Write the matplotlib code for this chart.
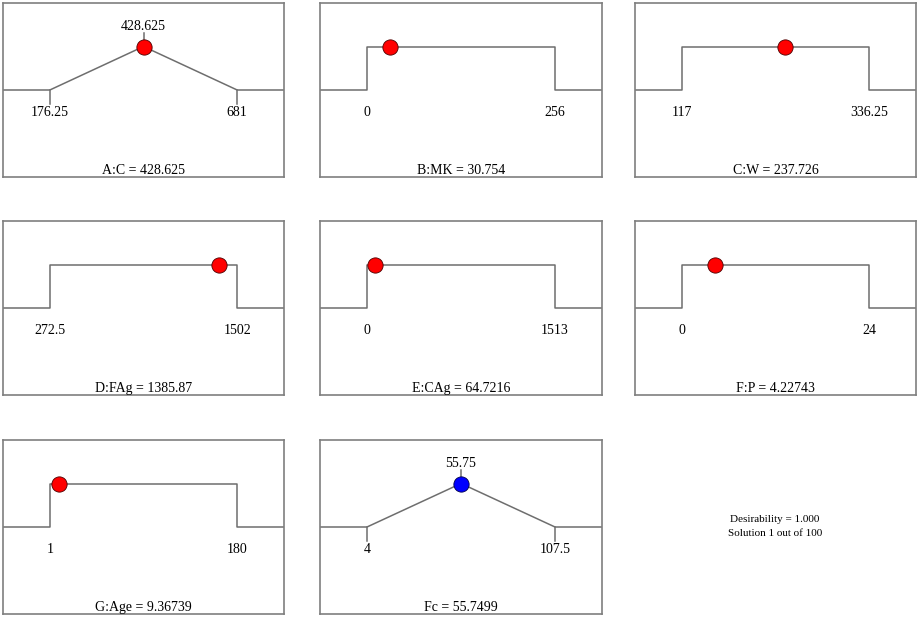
import matplotlib
matplotlib.use("Agg")
import matplotlib.pyplot as plt

plt.rcParams['font.family'] = ['Liberation Serif', 'DejaVu Serif']

# factor / response data (Design-Expert ramp view)
names = ["A:C", "B:MK", "C:W", "D:FAg", "E:CAg", "F:P", "G:Age", "Fc"]
lows = [176.25, 0, 117, 272.5, 0, 0, 1, 4]
highs = [681, 256, 336.25, 1502, 1513, 24, 180, 107.5]
low_labels = ["176.25", "0", "117", "272.5", "0", "0", "1", "4"]
high_labels = ["681", "256", "336.25", "1502", "1513", "24", "180", "107.5"]
goals = ["target", "range", "range", "range", "range", "range", "range", "target"]
targets = [428.625, None, None, None, None, None, None, 55.75]
target_labels = ["428.625", None, None, None, None, None, None, "55.75"]
solution = [428.625, 30.754, 237.726, 1385.87, 64.7216, 4.22743, 9.36739, 55.7499]
solution_labels = ["428.625", "30.754", "237.726", "1385.87", "64.7216",
                   "4.22743", "9.36739", "55.7499"]
desirability = "1.000"
solution_text = "Solution 1 out of 100"

W, H = 920, 617
fig = plt.figure(figsize=(W / 100, H / 100), dpi=100)

col_left = [3, 320, 635]
col_w = [281, 282, 281]
row_top = [3, 221, 440]
row_h = 174

line_c = "#6e6e6e"
box_c = "#7f7f7f"
fs = 10

for i, name in enumerate(names):
    r, c = divmod(i, 3)
    x0 = col_left[c] / W
    y0 = 1 - (row_top[r] + row_h) / H
    ax = fig.add_axes([x0, y0, col_w[c] / W, row_h / H])
    lo, hi = lows[i], highs[i]
    span = hi - lo
    xa, xb = lo - 0.25 * span, hi + 0.25 * span
    ax.set_xlim(xa, xb)
    ax.set_ylim(-2, 2)
    ax.set_xticks([])
    ax.set_yticks([])
    for s in ax.spines.values():
        s.set_color(box_c)
        s.set_linewidth(1.2)

    is_resp = (name == "Fc")
    dot_c = "#0000ff" if is_resp else "#ff0000"
    edge_c = "#00004a" if is_resp else "#4a0000"

    if goals[i] == "target":
        t = targets[i]
        ax.plot([xa, lo, t, hi, xb], [0, 0, 1, 0, 0], color=line_c, lw=1.1)
        # small ticks under the ramp ends and above the target
        ax.plot([lo, lo], [0, -0.32], color=line_c, lw=1.1)
        ax.plot([hi, hi], [0, -0.32], color=line_c, lw=1.1)
        ax.plot([t, t], [1.08, 1.3], color=line_c, lw=1.1)
        ax.text(t, 1.37, target_labels[i], ha="center", va="baseline", fontsize=fs)
    else:
        ax.plot([xa, lo, lo, hi, hi, xb], [0, 0, 1, 1, 0, 0], color=line_c, lw=1.1)
    ax.plot([solution[i]], [1], "o", ms=11, mfc=dot_c, mec=edge_c, mew=0.6, zorder=5)

    ax.text(lo, -0.36, low_labels[i], ha="center", va="top", fontsize=fs)
    ax.text(hi, -0.36, high_labels[i], ha="center", va="top", fontsize=fs)
    ax.text((xa + xb) / 2, -1.84, name + " = " + solution_labels[i],
            ha="center", va="center", fontsize=fs)

fig.text(775 / W, 1 - 520 / H, "Desirability = " + desirability,
         ha="center", va="center", fontsize=8)
fig.text(775 / W, 1 - 533 / H, solution_text, ha="center", va="center", fontsize=8)

fig.savefig("out.png", dpi=100)
